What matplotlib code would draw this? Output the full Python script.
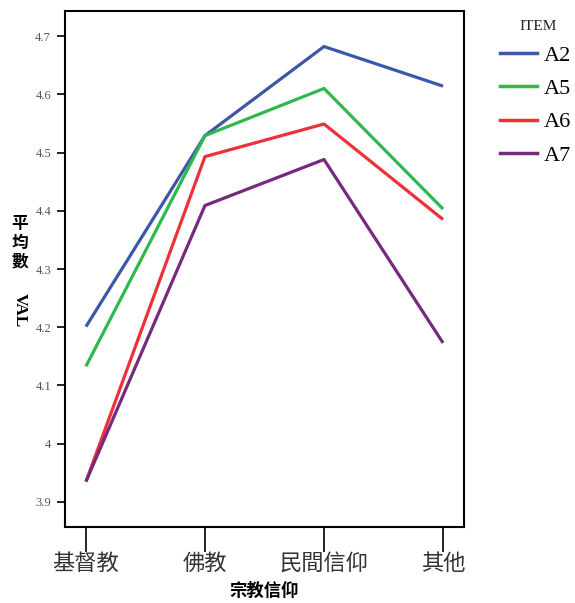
#line chart of item means by religion group

import matplotlib
matplotlib.use('Agg')
import matplotlib.pyplot as plt
from matplotlib.lines import Line2D

# data
categories = ['基督教', '佛教', '民間信仰', '其他']
items = ['A2', 'A5', 'A6', 'A7']
a2 = [4.201, 4.529, 4.682, 4.614]
a5 = [4.133, 4.529, 4.610, 4.403]
a6 = [3.935, 4.493, 4.549, 4.385]
a7 = [3.935, 4.409, 4.488, 4.173]
yticks = [3.9, 4.0, 4.1, 4.2, 4.3, 4.4, 4.5, 4.6, 4.7]
ytick_labels = ['3.9', '4', '4.1', '4.2', '4.3', '4.4', '4.5', '4.6', '4.7']

colors = ['#3b57a8', '#2fb84b', '#ee3039', '#762a7e']
cjk = ['Noto Sans CJK TC', 'DejaVu Sans']

fig = plt.figure(figsize=(5.75, 6.03), dpi=100)
W, H = 575, 603
# axes box in pixels: left 65, right 464, top 11, bottom 527
ax = fig.add_axes([65 / W, 1 - 527 / H, (464 - 65) / W, (527 - 11) / H])

x = list(range(len(categories)))
for vals, c, name in zip([a2, a5, a6, a7], colors, items):
    ax.plot(x, vals, color=c, lw=2.3, label=name, solid_capstyle='butt')

ax.set_xlim(-0.176, 3.176)
ax.set_ylim(3.857, 4.743)

for s in ax.spines.values():
    s.set_linewidth(1.5)

ax.set_yticks(yticks)
ax.set_yticklabels(ytick_labels, family='Liberation Serif', fontsize=9, color='#555555')
ax.tick_params(axis='y', direction='out', length=6, width=1.2, pad=4)

ax.set_xticks(x)
ax.set_xticklabels(categories, family=cjk, fontsize=16, color='#333333')
ax.tick_params(axis='x', direction='out', length=18, width=1.2, pad=0)

ax.set_xlabel('宗教信仰', family=cjk, fontsize=12.5, fontweight='bold', labelpad=5)

# vertical y label: CJK upright, VAL rotated
fig.text(20 / W, 1 - 243 / H, '平\n均\n數', family=cjk,
         fontsize=12, fontweight='bold', ha='center', va='center', linespacing=1.05)
fig.text(20 / W, 1 - 310 / H, 'VAL', family='Liberation Serif', fontsize=12.5,
         fontweight='bold', rotation=-90, ha='center', va='center')

# legend outside on the right
fig.text(538 / W, 1 - 26 / H, 'ITEM', family='Liberation Serif', fontsize=11,
         ha='center', va='center', color='#222222')
handles = [Line2D([0], [0], color=c, lw=2.5) for c in colors]
leg = fig.legend(handles, items, loc='upper left', bbox_to_anchor=(500 / W, 1 - 45 / H),
                 frameon=False, prop={'family': 'Liberation Serif', 'size': 16},
                 handlelength=1.65, handletextpad=0.3, labelspacing=0.58, borderpad=0,
                 borderaxespad=0)

plt.savefig('out.png', dpi=100)
